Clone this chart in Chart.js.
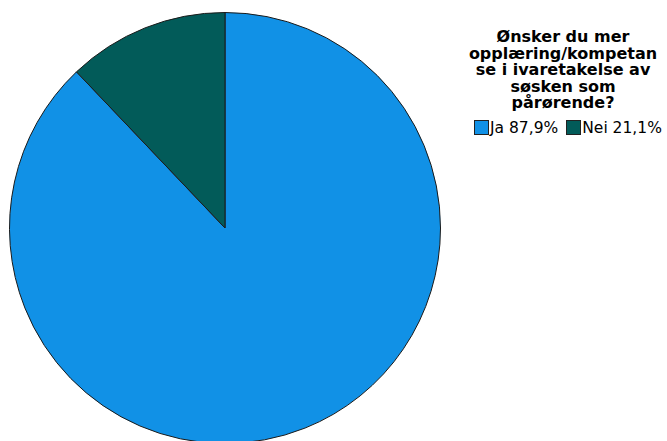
<!DOCTYPE html>
<html>
<head>
<meta charset="utf-8">
<script src="https://cdn.jsdelivr.net/npm/chart.js@4"></script>
<style>
  html, body { margin: 0; padding: 0; background: #fff; }
  body { width: 667px; height: 441px; overflow: hidden; position: relative; }
  #wrap { position: absolute; left: 0; top: 0; width: 450px; height: 456px; }
  #title {
    position: absolute; left: 463px; top: 29px; width: 200px;
    text-align: center; font: bold 16px "DejaVu Sans", sans-serif;
    line-height: 16.5px; color: #000; white-space: nowrap;
  }
  #legend {
    position: absolute; left: 474px; top: 119px; white-space: nowrap;
    font: 15.5px "DejaVu Sans", sans-serif; color: #000;
  }
  .item { display: inline-block; margin-right: 8px; }
  .box {
    display: inline-block; width: 13px; height: 13px; border: 1px solid #222;
    vertical-align: -2px; margin-right: 1px;
  }
</style>
</head>
<body>
<div id="wrap"><canvas id="pie"></canvas></div>
<div id="title">Ønsker du mer<br>opplæring/kompetan<br>se i ivaretakelse av<br>søsken som<br>pårørende?</div>
<div id="legend"></div>
<script>
const labels = ["Ja", "Nei"];
const values = [87.9, 12.1];
const legendText = ["Ja 87,9%", "Nei 21,1%"];
const colors = ["#1191e6", "#025b59"];

const ctx = document.getElementById("pie").getContext("2d");
const chart = new Chart(ctx, {
  type: "pie",
  data: {
    labels: labels,
    datasets: [{
      data: values,
      backgroundColor: colors,
      borderColor: "#1a1a1a",
      borderWidth: 1,
    }],
  },
  options: {
    responsive: true,
    maintainAspectRatio: false,
    animation: false,
    layout: { padding: { top: 12, bottom: 12, left: 9, right: 9 } },
    plugins: {
      legend: { display: false },
      tooltip: { enabled: false },
    },
  },
});

const legend = document.getElementById("legend");
chart.data.labels.forEach((label, i) => {
  const item = document.createElement("span");
  item.className = "item";
  const box = document.createElement("span");
  box.className = "box";
  box.style.background = chart.data.datasets[0].backgroundColor[i];
  item.appendChild(box);
  item.appendChild(document.createTextNode(legendText[i]));
  legend.appendChild(item);
});
</script>
</body>
</html>
